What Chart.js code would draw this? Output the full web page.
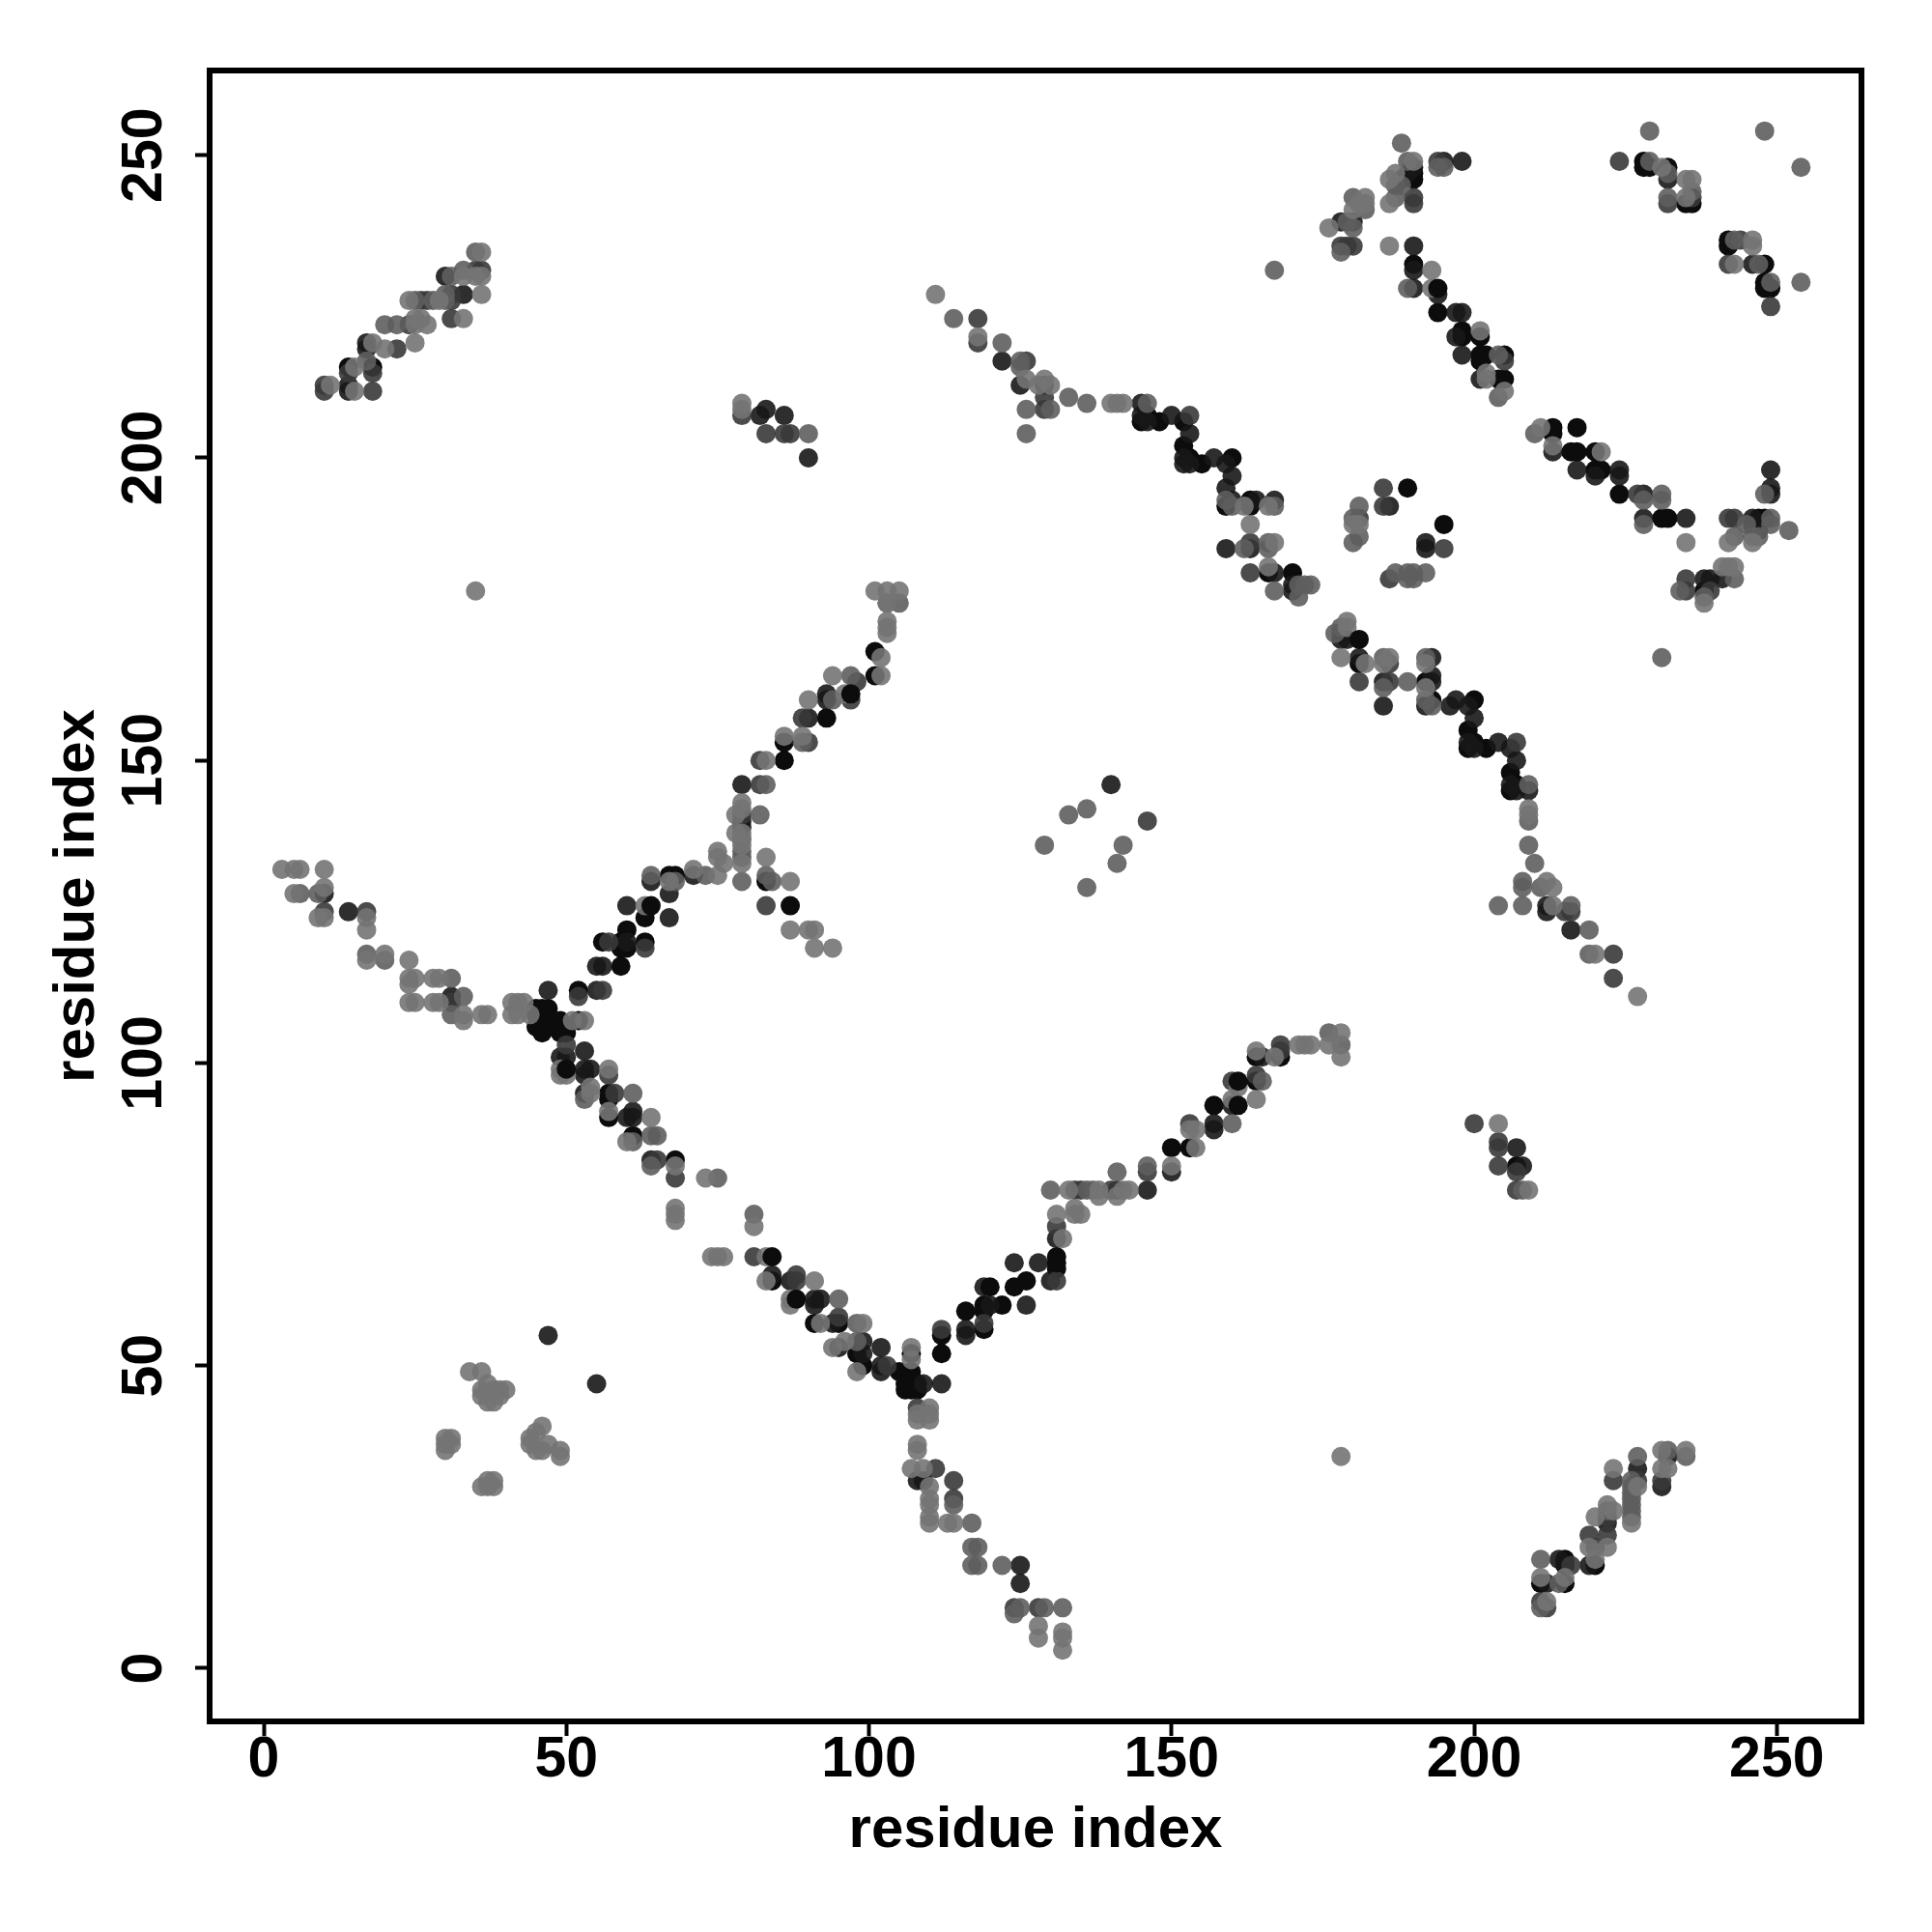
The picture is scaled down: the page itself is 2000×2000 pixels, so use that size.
<!DOCTYPE html>
<html>
<head>
<meta charset="utf-8">
<title>residue index</title>
<script src="https://cdn.jsdelivr.net/npm/chart.js@4/dist/chart.umd.min.js"></script>
<style>
  html, body { margin: 0; padding: 0; background: #fff; }
  canvas { display: block; }
</style>
</head>
<body>
<canvas id="grafico" width="2000" height="2000"></canvas>
<script>
// ticks and titles
const tickValues = [0, 50, 100, 150, 200, 250];
const axisTitle = "residue index";

// contacts, [x, y], grouped by how dark the dot is
const lightPoints = [
  [3,132],[5,132],[6,132],[10,132],[10,129],[5,128],[9,124],[10,124],[17,124],[17,122],[20,118],[17,117],[24,117],
  [24,114],[25,114],[28,114],[29,114],[24,113],[24,110],[25,110],[28,110],[29,110],[33,108],[33,107],[36,108],[37,108],
  [41,110],[42,110],[43,110],[41,108],[42,108],[44,108],[51,107],[53,107],[49,99],[49,98],[50,98],[57,99],[54,96],[54,95],
  [57,92],[64,91],[60,87],[68,83],[68,76],[68,75],[68,74],[73,81],[74,68],[75,68],[76,68],[81,73],[83,68],[83,64],[87,61],
  [87,60],[91,64],[92,57],[99,57],[96,54],[94,53],[98,49],[107,53],[107,51],[108,42],[108,41],[110,43],[110,42],[110,41],
  [108,37],[108,36],[107,33],[109,33],[110,30],[110,28],[110,27],[110,25],[110,24],[113,24],[114,24],[128,7],[128,5],[132,6],[132,5],[132,3],
  [132,71],[134,76],[134,75],[135,75],[131,75],[133,79],[138,79],[138,78],[141,78],[142,79],[143,79],[150,83],[154,89],
  [153,89],[154,86],[160,94],[161,96],[164,94],[164,102],[167,101],[171,103],[172,103],[173,103],[176,103],[178,105],[178,101],
  [35,178],[101,178],[103,178],[105,178],[103,176],[103,173],[103,172],[103,171],[102,167],[102,164],[94,164],[96,161],[90,160],[86,154],
  [89,154],[83,150],[79,143],[79,142],[78,141],[78,138],[79,138],[79,136],[79,133],[75,135],[75,134],[76,133],[83,134],[87,130],
  [87,122],[90,122],[91,122],[91,119],[94,119],[71,132],[75,131],[67,130],[63,126],[178,35],
  [34,49],[36,49],[37,47],[36,46],[36,45],[38,46],[39,46],[40,46],[37,44],[38,44],[39,45],[30,38],[31,38],[30,37],[31,37],[30,36],
  [46,40],[45,39],[44,38],[44,37],[45,36],[46,36],[47,37],[49,36],[49,35],[36,30],[37,31],[38,31],[37,30],[38,30],
  [111,227],[118,220],[126,213],[129,213],[130,212],[128,212],[140,209],[141,209],[142,209],[162,192],[166,192],[163,189],
  [167,186],[166,182],[179,173],[179,172],[178,167],[182,166],[186,167],[185,166],[192,166],[192,162],[209,142],[209,141],
  [212,130],[213,129],[213,126],[220,118],[227,111],[180,189],[181,189],[186,235],[193,231],[193,228],[201,221],[202,214],
  [202,213],[205,211],[176,238],[180,241],[181,242],[182,242],[182,243],[187,247],[186,246],[186,242],[190,249],[211,205],
  [213,202],[221,201],[235,186],[242,186],[246,186],[241,182],[242,182],[243,182],[238,176],[235,246],[236,246],[235,243],
  [231,248],[246,236],[246,235],[243,232],[212,11],[220,25],[220,18],[222,27],[223,26],[223,33],[226,24],[227,30],[231,33],
  [231,36],[232,33],[235,36],[215,15],[211,15],[219,20],[222,20],[209,79],[204,90],[79,209],[79,208],
  [11,212],[15,215],[15,211],[18,219],[20,218],[25,219],[25,223],[26,223],[25,222],[27,222],[24,226],[29,226],[33,230],[36,227],
  [36,234],[35,230],[36,230],[33,223]
];
const midPoints = [
  [6,128],[9,128],[17,118],[20,117],[31,114],[33,111],[31,108],[61,95],[64,88],[65,88],[95,61],[98,57],[98,54],[81,75],[75,81],
  [61,87],[53,94],[64,83],[130,79],[136,79],[137,79],[146,83],[141,82],[84,130],[83,131],[165,97],[160,90],[176,105],[178,103],
  [68,130],[64,131],[73,131],[79,137],[79,135],[79,134],[79,130],[82,141],[83,146],[89,153],[97,164],[94,160],[103,176],[105,176],[114,223],[122,219],
  [125,216],[125,215],[126,208],[130,208],[126,204],[133,210],[136,209],[146,209],[159,193],[160,192],[162,185],[166,186],
  [166,185],[167,192],[167,178],[171,179],[171,177],[172,179],[173,179],[181,192],[180,190],[181,187],[180,186],[187,181],
  [189,181],[190,181],[189,180],[190,180],[192,181],[178,172],[177,171],[185,167],[185,162],[189,163],[192,167],[192,160],
  [193,159],[204,126],[208,126],[208,130],[208,129],[209,136],[210,133],[211,129],[216,126],[219,122],[219,118],[209,140],
  [209,146],[188,252],[189,249],[187,245],[188,245],[187,243],[180,243],[182,241],[179,239],[180,238],[178,234],[189,228],
  [204,217],[204,210],[210,204],[231,194],[231,193],[228,193],[228,189],[234,178],[249,190],[249,189],[245,189],[246,187],
  [247,187],[243,187],[252,188],[248,194],[238,177],[243,180],[229,254],[248,254],[229,249],[254,248],[232,247],[232,243],
  [236,244],[243,236],[247,232],[249,229],[254,229],[231,167],[194,248],[195,248],[133,141],[136,142],[129,136],[142,136],
  [141,133],[136,129],[211,18],[208,79],[211,10],[222,26],[226,31],[226,30],[226,29],[226,28],[226,27],[226,26],[226,25],
  [227,35],[232,36],[235,35],[214,14],[118,20],[117,20],[117,24],[117,17],[118,17],[122,17],[129,10],[132,10],[124,9],[125,10],
  [114,27],[167,231],[90,204],[17,216],[20,222],[22,222],[25,226],[28,226],[30,227],[30,226],[31,230],[33,231],[35,234]
];
const slatePoints = [
  [17,125],[10,125],[31,110],[57,98],[65,84],[95,58],[81,68],[88,65],[88,64],[68,81],[58,95],[50,103],[56,112],[52,111],
  [57,120],[63,119],[83,126],[82,150],[90,153],[98,163],[97,160],[79,141],[82,146],[79,207],[83,204],[86,204],[87,204],
  [112,56],[119,57],[131,73],[131,64],[146,82],[140,79],[134,79],[135,79],[153,90],[160,97],[164,98],[168,103],[168,102],[108,43],
  [103,50],[118,223],[118,219],[126,216],[129,210],[129,208],[163,186],[163,181],[153,207],[207,153],[181,190],[185,195],[185,192],
  [186,166],[186,163],[181,163],[195,185],[186,180],[215,125],[216,125],[223,118],[223,114],[190,243],[190,242],[194,249],[178,235],
  [179,235],[180,235],[205,216],[227,194],[235,180],[235,178],[239,178],[242,190],[243,190],[224,249],[232,242],[236,243],[244,236],
  [242,232],[249,225],[146,140],[200,90],[204,87],[204,86],[204,83],[207,82],[207,79],[211,11],[212,10],[219,22],[220,20],[216,17],
  [222,25],[222,22],[223,31],[227,31],[231,31],[111,33],[114,31],[114,28],[124,10],[128,10],[10,212],[10,211],[14,214],[18,214],
  [18,211],[22,218],[24,222],[26,226],[27,226],[31,227],[31,226],[35,231],[36,231],[31,223],[89,157]
];
const darkPoints = [
  [10,128],[14,125],[31,111],[47,112],[55,112],[53,102],[49,101],[50,101],[53,99],[54,99],[53,98],[53,95],[60,91],[61,92],[61,91],
  [64,84],[84,65],[87,64],[91,61],[92,61],[91,60],[94,57],[95,53],[99,54],[99,52],[102,53],[102,50],[102,49],[109,47],[112,47],
  [47,55],[55,47],[116,56],[116,55],[120,60],[126,60],[124,67],[128,67],[119,63],[130,64],[131,71],[146,79],[141,79],[150,82],
  [157,90],[157,89],[160,93],[165,101],[60,126],[67,124],[67,128],[64,130],[60,120],[55,116],[56,116],[71,131],[79,146],[79,140],[79,139],
  [93,161],[93,160],[90,157],[14,211],[14,212],[17,219],[17,218],[33,227],[30,230],[122,216],[125,212],[129,212],[145,209],[145,207],
  [146,206],[150,207],[153,204],[152,200],[152,199],[153,199],[157,200],[159,199],[160,197],[159,195],[160,193],[164,193],[167,193],
  [159,185],[163,185],[167,181],[170,179],[170,178],[178,171],[178,170],[179,170],[181,167],[185,163],[185,159],[193,167],[193,164],
  [193,163],[192,159],[196,159],[197,160],[199,159],[200,157],[199,153],[200,152],[204,153],[206,152],[207,150],[206,146],[207,145],
  [209,145],[212,126],[212,125],[216,122],[186,192],[192,186],[192,185],[190,248],[189,247],[188,246],[195,249],[198,249],[178,239],
  [180,239],[190,235],[190,231],[190,228],[194,227],[197,224],[198,224],[197,220],[198,217],[201,213],[213,201],[217,198],[220,197],
  [224,198],[224,197],[228,194],[228,190],[235,190],[238,180],[239,180],[241,180],[246,190],[246,189],[247,188],[249,198],[249,195],
  [249,194],[232,246],[246,232],[214,18],[219,17],[222,24],[227,33],[232,35],[212,14],[231,30],[125,17],[125,14],[207,86],[208,83],
  [108,31],[109,31],[90,200],[82,207],[83,208],[86,207],[140,146]
];
const inkPoints = [
  [45,108],[45,109],[46,109],[47,109],[46,105],[47,107],[48,106],[49,107],[50,106],[49,105],[50,105],[45,106],[47,106],[46,107],
  [52,112],[52,107],[57,95],[57,94],[57,91],[61,88],[68,84],[84,64],[91,57],[95,57],[98,52],[99,50],[107,52],[105,49],[107,49],
  [106,47],[106,46],[107,48],[108,46],[108,47],[107,46],[112,55],[112,52],[116,59],[119,59],[119,60],[122,60],[119,56],[124,63],
  [131,68],[131,66],[150,86],[153,86],[157,93],[164,97],[164,101],[168,101],[101,168],[101,164],[93,157],[86,153],[86,150],
  [67,131],[68,131],[63,124],[60,122],[56,120],[59,120],[59,119],[60,119],[63,120],[59,116],[83,130],[87,126],[146,207],[145,206],
  [148,206],[152,206],[152,202],[153,200],[155,199],[160,200],[159,192],[163,193],[163,192],[166,181],[170,181],[189,195],[195,189],
  [181,166],[192,163],[193,160],[200,160],[199,155],[199,152],[200,153],[202,152],[206,148],[206,145],[207,146],[190,247],[190,246],
  [190,232],[194,224],[198,221],[198,220],[201,220],[201,217],[202,217],[201,216],[204,213],[205,213],[205,217],[213,205],[213,204],
  [217,205],[216,201],[217,201],[220,201],[220,198],[221,198],[224,194],[231,190],[232,190],[238,178],[247,190],[248,190],[228,249],
  [228,248],[229,248],[232,248],[235,242],[236,242],[242,236],[242,235],[248,232],[248,229],[248,228],[249,228],[215,18],[215,17],
  [215,14],[211,14],[220,17],[207,83],[14,215],[18,215]
];
// these black dots sit over their lighter neighbours
const inkTopPoints = [
  [50,99],[64,126],[88,61],[97,161],[161,93],[161,97],[131,67],[84,68],[120,63],[126,64],[181,170],[194,228]
];

// drawn in this order, last one ends up on top
const capas = [
  { datos: inkPoints, color: "#0c0c0c" },
  { datos: darkPoints, color: "rgba(23, 23, 23, 0.9)" },
  { datos: slatePoints, color: "rgba(57, 57, 57, 0.9)" },
  { datos: midPoints, color: "rgba(94, 94, 94, 0.9)" },
  { datos: lightPoints, color: "rgba(116, 116, 116, 0.9)" },
  { datos: inkTopPoints, color: "#0c0c0c" },
];

const fuente = { family: "'Liberation Sans', Arial, sans-serif", weight: "bold", size: 59 };
const fuenteTitulo = { family: "'Liberation Sans', Arial, sans-serif", weight: "bold", size: 60 };

// black frame around the plot area
const marco = {
  id: "marco",
  afterDatasetsDraw(chart) {
    const { ctx, chartArea: a } = chart;
    ctx.save();
    ctx.strokeStyle = "#000";
    ctx.lineWidth = 6;
    ctx.strokeRect(a.left, a.top, a.right - a.left, a.bottom - a.top);
    ctx.restore();
  },
};

new Chart(document.getElementById("grafico"), {
  type: "scatter",
  plugins: [marco],
  data: {
    datasets: capas.map((c, i) => ({
      data: c.datos.map(([x, y]) => ({ x, y })),
      backgroundColor: c.color,
      borderWidth: 0,
      pointRadius: 10,
      order: capas.length - i,
    })),
  },
  options: {
    responsive: false,
    animation: false,
    layout: { padding: { top: 73, right: 73, left: 0, bottom: 0 } },
    plugins: { legend: { display: false }, tooltip: { enabled: false } },
    scales: {
      x: {
        type: "linear",
        min: -8.94,
        max: 264,
        afterFit(scale) { scale.height = 218; },
        afterBuildTicks(scale) { scale.ticks = tickValues.map((value) => ({ value })); },
        border: { display: false },
        grid: { drawOnChartArea: false, tickLength: 15, tickWidth: 4, tickColor: "#000" },
        ticks: { color: "#000", font: fuente, padding: -10, maxRotation: 0, minRotation: 0 },
        title: { display: true, text: axisTitle, color: "#000", font: fuenteTitulo, padding: { top: 0, bottom: 69 } },
      },
      y: {
        type: "linear",
        min: -8.78,
        max: 264,
        afterFit(scale) { scale.width = 217; },
        afterBuildTicks(scale) { scale.ticks = tickValues.map((value) => ({ value })); },
        border: { display: false },
        grid: { drawOnChartArea: false, tickLength: 15, tickWidth: 4, tickColor: "#000" },
        ticks: { color: "#000", font: fuente, padding: 2, minRotation: 90, maxRotation: 90, crossAlign: "center" },
        title: { display: true, text: axisTitle, color: "#000", font: fuenteTitulo, padding: { top: 44, bottom: 0 } },
      },
    },
  },
});
</script>
</body>
</html>
